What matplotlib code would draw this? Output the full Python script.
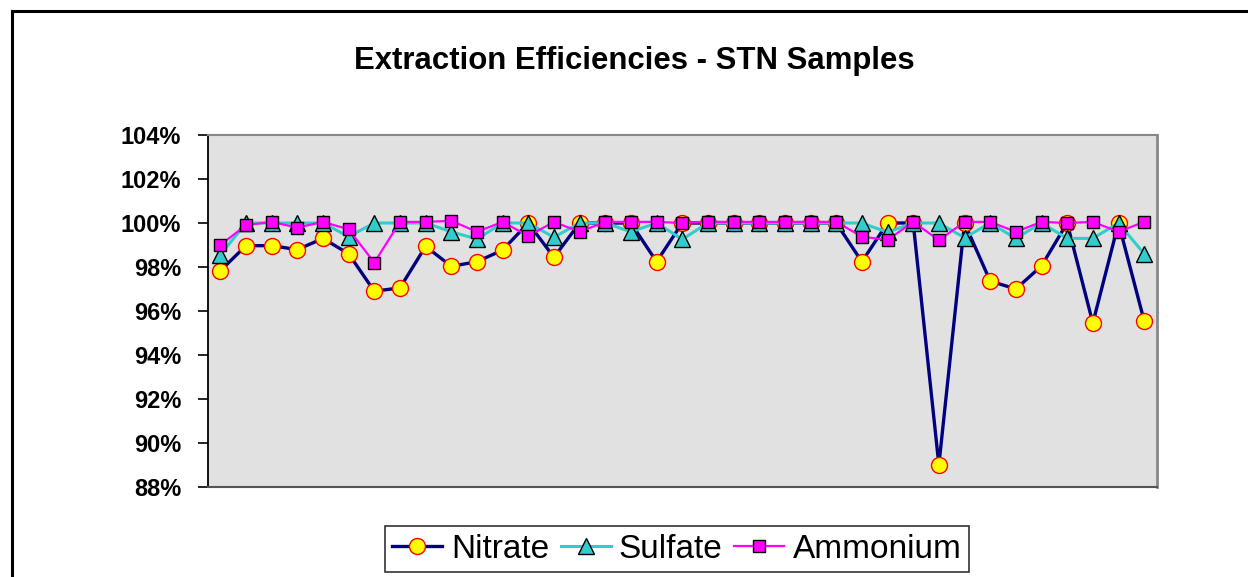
import matplotlib
matplotlib.use("Agg")
import matplotlib.pyplot as plt
from matplotlib.lines import Line2D
from matplotlib.ticker import FuncFormatter

plt.rcParams['font.family'] = ['Liberation Sans', 'DejaVu Sans']

samples = list(range(1, 38))
nitrate = [97.83, 98.97, 98.97, 98.79, 99.3, 98.6, 96.9, 97.05, 98.94, 98.03,
           98.24, 98.77, 100.0, 98.44, 100.0, 100.0, 100.0, 98.24, 100.0, 100.0,
           100.0, 100.0, 100.0, 100.0, 100.0, 98.24, 100.0, 100.0, 89.0, 100.0,
           97.36, 97.0, 98.05, 100.0, 95.45, 100.0, 95.55]
sulfate = [98.55, 100.0, 100.0, 100.0, 100.0, 99.38, 100.0, 100.0, 100.0, 99.6,
           99.27, 100.0, 100.0, 99.35, 100.0, 100.0, 99.6, 100.0, 99.26, 100.0,
           100.0, 100.0, 100.0, 100.0, 100.0, 100.0, 99.58, 100.0, 100.0, 99.33,
           100.0, 99.3, 100.0, 99.3, 99.3, 100.0, 98.6]
ammonium = [99.0, 99.9, 100.05, 99.79, 100.05, 99.71, 98.2, 100.05, 100.05, 100.1,
            99.6, 100.05, 99.41, 100.05, 99.6, 100.05, 100.05, 100.05, 100.0, 100.05,
            100.05, 100.05, 100.05, 100.05, 100.05, 99.38, 99.23, 100.05, 99.22, 100.05,
            100.05, 99.6, 100.05, 100.0, 100.05, 99.6, 100.05]

title = "Extraction Efficiencies - STN Samples"
yticks = list(range(88, 105, 2))

W, H = 1248, 577
fig = plt.figure(figsize=(W / 100, H / 100), dpi=100)
fig.patch.set_facecolor('white')

left, right, top, bottom = 207.5, 1157, 135, 487
ax = fig.add_axes([left / W, 1 - bottom / H, (right - left) / W, (bottom - top) / H])
ax.set_facecolor('#E1E1E1')

ax.plot(samples, nitrate, color='#000080', lw=2.4, marker='o', ms=11.5,
        mfc='#FFFF00', mec='#FF0000', mew=1.0, label='Nitrate', zorder=3)
ax.plot(samples, sulfate, color='#33CCCC', lw=2.2, marker='^', ms=11.5,
        mfc='#33CCCC', mec='black', mew=1.0, label='Sulfate', zorder=4)
ax.plot(samples, ammonium, color='#FF00FF', lw=1.6, marker='s', ms=8.5,
        mfc='#FF00FF', mec='black', mew=1.0, label='Ammonium', zorder=5)

ax.set_xlim(0.5, 37.5)
ax.set_ylim(88, 104)
ax.set_yticks(yticks)
ax.yaxis.set_major_formatter(FuncFormatter(lambda v, p: f"{v:.0f}%"))
ax.set_xticks([])
ax.tick_params(axis='y', direction='out', length=7, width=1.2, color='black', pad=12,
               labelsize=17)
for lab in ax.get_yticklabels():
    lab.set_fontweight('bold')

ax.spines['left'].set_color('black')
ax.spines['left'].set_linewidth(1.3)
ax.spines['bottom'].set_color('#555555')
ax.spines['bottom'].set_linewidth(1.5)
ax.spines['top'].set_color('#888888')
ax.spines['top'].set_linewidth(1.5)
ax.spines['right'].set_color('#888888')
ax.spines['right'].set_linewidth(2.0)

fig.text(634 / W, 1 - 69 / H, title, ha='center', va='baseline', fontsize=22.4,
         fontweight='bold')

leg = fig.legend(loc='center', bbox_to_anchor=(677 / W, 1 - 549 / H), ncol=3,
                 fontsize=24, frameon=True, fancybox=False, edgecolor='black',
                 handlelength=1.5, handletextpad=0.25, columnspacing=0.35,
                 borderpad=0.22, borderaxespad=0)
leg.get_frame().set_linewidth(1.2)

# outer chart border (cropped at right / bottom)
fig.add_artist(Line2D([12 / W, 1.0], [1 - 11 / H, 1 - 11 / H], color='black', lw=2.2,
                      transform=fig.transFigure))
fig.add_artist(Line2D([12 / W, 12 / W], [0.0, 1 - 11 / H], color='black', lw=2.2,
                      transform=fig.transFigure))

fig.savefig('out.png', dpi=100)
